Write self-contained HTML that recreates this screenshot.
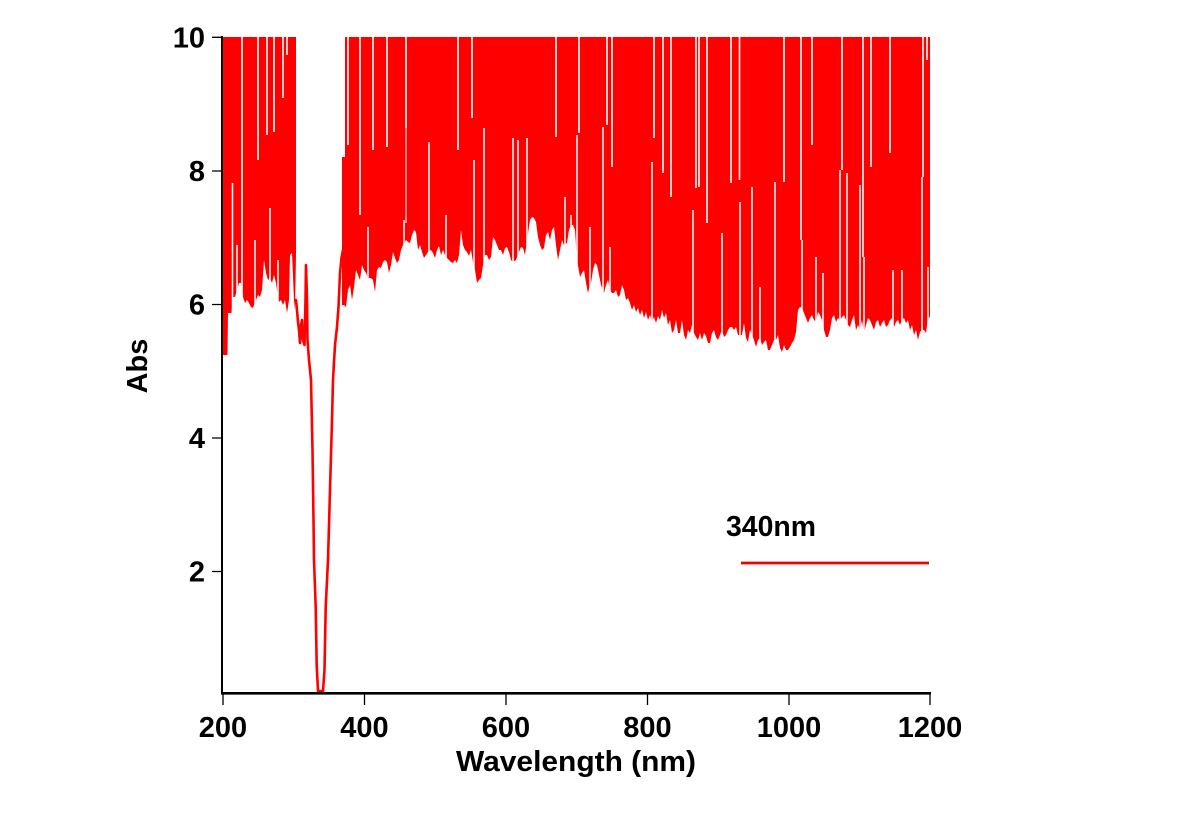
<!DOCTYPE html>
<html>
<head>
<meta charset="utf-8">
<style>
html,body{margin:0;padding:0;background:#fff;}
body{width:1187px;height:820px;overflow:hidden;}
svg{display:block;}
text{font-family:"Liberation Sans",Arial,sans-serif;font-weight:bold;fill:#000;}
</style>
</head>
<body>
<svg width="1187" height="820" viewBox="0 0 1187 820" xmlns="http://www.w3.org/2000/svg">
<rect x="0" y="0" width="1187" height="820" fill="#fff"/>

<!-- dense red region left -->
<path fill="#ff0000" d="M223,37 H296 V255 L295,310 L294,300 L292,253 L290,255 L289,300 L287,313 L285,300 L283,305 L281,300 L279,302 L277,290 L276,283 L274,275 L272,283 L270,278 L268,280 L266,273 L264,260 L262,290 L260,297 L258,295 L256,300 L254,305 L253,308 L251,307 L249,303 L247,300 L245,303 L243,297 L241,283 L239,283 L237,290 L235,297 L233,297 L231.5,313 L228,313 L227.5,355 L223,355 Z"/>

<!-- dense red region right -->
<path fill="#ff0000" d="M342,305 L344,305 L346,307 L348,290 L350,285 L352,300 L354,287 L356,270 L358,275 L360,280 L362,265 L364,270 L366,273 L368,278 L371,278 L373,280 L375,292 L377,270 L379,267 L381,268 L383,262 L385,260 L387,262 L389,273 L391,265 L393,252 L395,258 L397,263 L399,260 L401,250 L403,245 L406,240 L408,242 L410,243 L412,235 L414,230 L416,232 L418,250 L420,245 L422,252 L424,258 L426,255 L428,252 L431,250 L433,253 L435,258 L437,250 L439,246 L441,255 L443,250 L445,255 L447,258 L449,260 L451,262 L453,263 L455,260 L457,263 L459,255 L461,230 L463,245 L465,250 L467,252 L469,256 L471,250 L473,262 L475,270 L477,283 L479,280 L481,278 L483,265 L485,255 L487,255 L489,260 L491,257 L493,237 L495,240 L497,245 L499,250 L501,250 L503,255 L505,248 L507,247 L509,252 L511,260 L513,262 L516,260 L519,252 L521,247 L523,248 L525,255 L527,240 L530,220 L532,217 L534,218 L536,222 L538,237 L540,245 L542,250 L544,248 L546,235 L548,232 L550,240 L552,230 L554,227 L556,245 L558,260 L560,250 L562,240 L564,245 L567,243 L569,230 L571,225 L573,225 L575,230 L577,260 L580,277 L582,273 L584,270 L586,283 L588,293 L590,285 L591,283 L593,270 L595,263 L597,265 L599,275 L601,285 L604,293 L606,285 L608,280 L610,290 L612,293 L614,293 L616,290 L618,297 L620,295 L622,285 L624,290 L626,300 L628,298 L630,303 L632,310 L634,305 L636,312 L638,308 L640,315 L642,310 L644,318 L646,312 L648,320 L650,315 L652,322 L654,317 L656,323 L658,316 L660,320 L662,310 L664,318 L666,313 L668,325 L670,320 L672,333 L674,330 L676,320 L678,333 L680,333 L682,320 L684,335 L686,340 L688,330 L690,333 L692,325 L694,333 L696,337 L698,340 L700,333 L702,340 L704,333 L706,336 L708,343 L710,343 L712,333 L714,330 L716,337 L718,340 L720,335 L722,330 L724,337 L726,335 L728,330 L730,327 L732,327 L734,330 L736,327 L738,335 L742,335 L744,323 L746,338 L748,342 L750,330 L752,335 L754,340 L756,347 L758,340 L760,338 L762,345 L764,342 L766,340 L768,350 L770,350 L772,345 L774,340 L776,340 L778,335 L780,348 L782,352 L784,345 L786,350 L788,350 L790,347 L792,343 L794,340 L796,332 L798,310 L800,307 L802,308 L804,313 L806,318 L808,323 L810,318 L812,315 L814,320 L816,322 L818,312 L820,315 L822,320 L824,330 L826,337 L828,337 L830,330 L832,318 L834,315 L836,322 L838,318 L840,320 L842,317 L844,315 L846,320 L848,325 L850,327 L852,320 L854,315 L856,330 L858,325 L860,330 L862,320 L864,333 L866,325 L868,318 L870,320 L872,325 L874,330 L876,322 L878,320 L880,327 L882,323 L884,320 L886,327 L888,325 L890,320 L892,318 L894,327 L896,322 L898,320 L900,325 L902,320 L904,318 L906,323 L908,320 L910,330 L912,325 L914,335 L916,330 L918,340 L920,332 L922,330 L924,330 L926,333 L928,318 L930,317 L930,37 L345,37 L345,157 L342,157 Z"/>

<!-- white gaps from top -->
<path fill="none" stroke="#fff" stroke-width="1.6" d="M242,36V300 M258,36V160 M267,36V135 M274,36V132 M283,36V98 M287,36V55 M348,36V145 M360,36V215 M373,36V150 M387,36V147 M406,36V128 M458,36V150 M472,36V118 M556,36V137 M579,36V133 M607,36V125 M612,36V167 M654,36V138 M663,36V173 M671,36V197 M696,36V188 M699,36V187 M707,36V223 M731,36V183 M739.5,36V180 M784,36V182 M801,36V240 M812,36V145 M842,36V170 M863,36V257 M871,36V167 M890,36V153 M923,36V177 M927,36V60"/>
<path fill="none" stroke="#fff" stroke-width="1" d="M406,128V223"/>

<!-- white slots from bottom -->
<path fill="none" stroke="#fff" stroke-width="1.5" d="M232.5,183V360 M237,245V360 M255,240V360 M270,208V360 M278,260V360 M368,227V360 M404,220V360 M429,142V360 M446,215V360 M474,160V360 M484,128V360 M513,138V360 M518,140V360 M527,138V360 M565,197V360 M571,215V360 M577,135V360 M590,227V360 M603,127V360 M610,247V360 M652,162V360 M693,210V360 M722,233V360 M740,202V360 M752,187V360 M760,287V360 M775,182V360 M802,240V360 M816,257V360 M823,273V360 M840,170V360 M847,173V360 M860,185V360 M864,257V360 M893,270V360 M902,270V360 M922,177V360 M928,267V360"/>

<!-- dip line around 340nm -->
<path fill="none" stroke="#ff0000" stroke-width="2.6" stroke-linejoin="round" d="M294,300 L296,300 L297,310 L298,322 L299,330 L300,343 L301,325 L302,320 L303,340 L304.5,345 L305.5,300 L306,265 L307,300 L307.5,340 L309,360 L311,380 L312.5,450 L313.5,520 L314,560 L315.7,607 L316.7,665 L318,691 L323,691 L324.5,670 L325.7,607 L328,560 L330,490 L332,420 L333,380 L335,345 L337,327 L338.5,307 L340,273 L341.5,258 L343,250"/>

<!-- axes -->
<path fill="none" stroke="#000" stroke-width="2" d="M222,36V694"/>
<path fill="none" stroke="#000" stroke-width="2.6" d="M221,693.3H931"/>
<path fill="none" stroke="#000" stroke-width="1.3" d="M212,37.3H222 M212,171H222 M212,304.5H222 M212,438H222 M212,571.5H222 M223,693V705 M364.5,693V705 M506,693V705 M647.5,693V705 M789,693V705 M930,693V705"/>

<!-- y tick labels -->
<g font-size="29" text-anchor="end">
<text x="205" y="47.5">10</text>
<text x="205" y="181">8</text>
<text x="205" y="314.5">6</text>
<text x="205" y="448">4</text>
<text x="205" y="581.5">2</text>
</g>

<!-- x tick labels -->
<g font-size="29" text-anchor="middle">
<text x="223" y="737">200</text>
<text x="364.5" y="737">400</text>
<text x="506" y="737">600</text>
<text x="647.5" y="737">800</text>
<text x="789" y="737">1000</text>
<text x="930" y="737">1200</text>
</g>

<!-- axis titles -->
<text x="576" y="771" font-size="29" text-anchor="middle" textLength="240" lengthAdjust="spacingAndGlyphs">Wavelength (nm)</text>
<text x="147" y="366" font-size="29" text-anchor="middle" transform="rotate(-90 147 366)">Abs</text>

<!-- legend -->
<text x="726" y="536" font-size="29" textLength="90" lengthAdjust="spacingAndGlyphs">340nm</text>
<path fill="none" stroke="#ee0000" stroke-width="2.8" d="M741,563H929"/>
</svg>
</body>
</html>
